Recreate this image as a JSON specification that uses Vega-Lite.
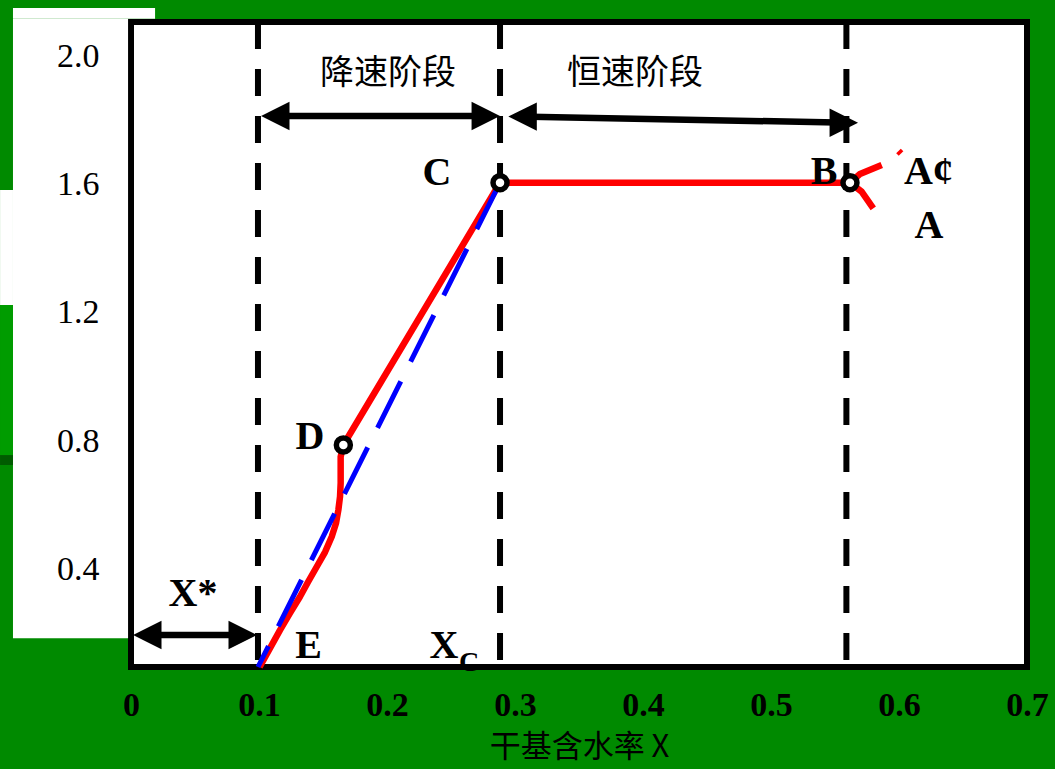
{
  "$schema": "https://vega.github.io/schema/vega-lite/v6.json",
  "width": 896,
  "height": 645,
  "autosize": {"type": "none"},
  "padding": {"left": 131, "top": 22, "right": 28, "bottom": 102},
  "background": "#008a00",
  "config": {"view": {"fill": "white", "stroke": "black", "strokeWidth": 6}},
  "layer": [
    {
      "data": {"values": [
        {"x": -0.0922, "x2": 0.0188, "y": 2.153, "y2": 2.119, "kind": "patch"},
        {"x": -0.0922, "x2": -0.0023, "y": 2.119, "y2": 0.184, "kind": "patch"},
        {"x": -0.1023, "x2": -0.0922, "y": 1.584, "y2": 1.225, "kind": "patch"},
        {"x": -0.1023, "x2": -0.0922, "y": 1.225, "y2": 0.756, "kind": "stripe"},
        {"x": -0.1023, "x2": -0.0922, "y": 0.756, "y2": 0.725, "kind": "band"}
      ]},
      "mark": {"type": "rect", "clip": false, "strokeWidth": 0},
      "encoding": {
        "x": {
          "field": "x", "type": "quantitative",
          "scale": {"domain": [0, 0.7], "nice": false, "zero": false},
          "title": "干基含水率 X",
          "axis": {
            "values": [0, 0.1, 0.2, 0.3, 0.4, 0.5, 0.6, 0.7],
            "format": ".1~f",
            "labelFont": "Liberation Serif", "labelFontWeight": "bold", "labelFontSize": 34,
            "labelColor": "black", "labelPadding": 38, "labelBaseline": "middle",
            "labelFlush": false, "labelOverlap": false,
            "ticks": false, "tickSize": 0, "domain": false, "grid": false,
            "titleFont": "Noto Sans CJK SC", "titleFontSize": 31, "titleFontWeight": "normal",
            "titleColor": "black", "titleBaseline": "middle", "titleY": 80,
            "zindex": 1
          }
        },
        "x2": {"field": "x2"},
        "y": {
          "field": "y", "type": "quantitative",
          "scale": {"domain": [0.094, 2.109], "nice": false, "zero": false},
          "title": null,
          "axis": {
            "values": [0.4, 0.8, 1.2, 1.6, 2.0],
            "format": ".1f",
            "labelFont": "Liberation Serif", "labelFontWeight": "normal", "labelFontSize": 34,
            "labelColor": "black", "labelPadding": 32, "labelAlign": "right", "labelBaseline": "middle",
            "labelFlush": false, "labelOverlap": false,
            "ticks": false, "tickSize": 0, "domain": false, "grid": false,
            "zindex": 1
          }
        },
        "y2": {"field": "y2"},
        "color": {
          "field": "kind", "type": "nominal",
          "scale": {"domain": ["patch", "stripe", "band"], "range": ["#ffffff", "#009c00", "#005c00"]},
          "legend": null
        }
      }
    },
    {
      "data": {"values": [{"x": 0.0992}, {"x": 0.2883}, {"x": 0.5589}]},
      "mark": {"type": "rule", "color": "black", "strokeWidth": 6, "strokeDash": [27, 20]},
      "encoding": {
        "x": {"field": "x", "type": "quantitative"},
        "y": {"datum": 2.109, "type": "quantitative"},
        "y2": {"datum": 0.094}
      }
    },
    {
      "data": {"values": [
        {"seg": "main", "ord": 1, "x": 0.1005, "y": 0.094},
        {"seg": "main", "ord": 2, "x": 0.1164, "y": 0.2094},
        {"seg": "main", "ord": 3, "x": 0.1242, "y": 0.2625},
        {"seg": "main", "ord": 4, "x": 0.1320, "y": 0.3134},
        {"seg": "main", "ord": 5, "x": 0.1383, "y": 0.3594},
        {"seg": "main", "ord": 6, "x": 0.1451, "y": 0.4072},
        {"seg": "main", "ord": 7, "x": 0.1516, "y": 0.4531},
        {"seg": "main", "ord": 8, "x": 0.1568, "y": 0.5009},
        {"seg": "main", "ord": 9, "x": 0.1602, "y": 0.5438},
        {"seg": "main", "ord": 10, "x": 0.1620, "y": 0.5844},
        {"seg": "main", "ord": 11, "x": 0.1633, "y": 0.626},
        {"seg": "main", "ord": 12, "x": 0.1638, "y": 0.6688},
        {"seg": "main", "ord": 13, "x": 0.1638, "y": 0.7509},
        {"seg": "main", "ord": 14, "x": 0.1659, "y": 0.7875},
        {"seg": "main", "ord": 15, "x": 0.2883, "y": 1.607},
        {"seg": "main", "ord": 16, "x": 0.5617, "y": 1.607},
        {"seg": "up", "ord": 1, "x": 0.5617, "y": 1.607},
        {"seg": "up", "ord": 2, "x": 0.5695, "y": 1.634},
        {"seg": "up", "ord": 3, "x": 0.5865, "y": 1.6625},
        {"seg": "down", "ord": 1, "x": 0.5617, "y": 1.607},
        {"seg": "down", "ord": 2, "x": 0.5708, "y": 1.579},
        {"seg": "down", "ord": 3, "x": 0.5799, "y": 1.527},
        {"seg": "dot", "ord": 1, "x": 0.5996, "y": 1.706},
        {"seg": "dot", "ord": 2, "x": 0.6016, "y": 1.698}
      ]},
      "mark": {"type": "line", "color": "#ff0000", "strokeWidth": 6.5, "strokeJoin": "round"},
      "encoding": {
        "x": {"field": "x", "type": "quantitative"},
        "y": {"field": "y", "type": "quantitative"},
        "detail": {"field": "seg", "type": "nominal"},
        "order": {"field": "ord", "type": "quantitative"}
      }
    },
    {
      "data": {"values": [
        {"ord": 1, "x": 0.2883, "y": 1.607},
        {"ord": 2, "x": 0.0992, "y": 0.094}
      ]},
      "mark": {"type": "line", "color": "#0000ff", "strokeWidth": 5, "strokeDash": [52, 22]},
      "encoding": {
        "x": {"field": "x", "type": "quantitative"},
        "y": {"field": "y", "type": "quantitative"},
        "order": {"field": "ord", "type": "quantitative"}
      }
    },
    {
      "data": {"values": [
        {"label": "C", "x": 0.2391, "y": 1.6375},
        {"label": "B", "x": 0.5414, "y": 1.6406},
        {"label": "A¢", "x": 0.623, "y": 1.639},
        {"label": "A", "x": 0.6234, "y": 1.4703},
        {"label": "D", "x": 0.1398, "y": 0.8135},
        {"label": "E", "x": 0.1387, "y": 0.1594},
        {"label": "X", "x": 0.2445, "y": 0.1594},
        {"label": "X*", "x": 0.0484, "y": 0.3219}
      ]},
      "mark": {"type": "text", "font": "Liberation Serif", "fontWeight": "bold", "fontSize": 40, "color": "black", "align": "center", "baseline": "middle", "clip": false},
      "encoding": {
        "x": {"field": "x", "type": "quantitative"},
        "y": {"field": "y", "type": "quantitative"},
        "text": {"field": "label"}
      }
    },
    {
      "data": {"values": [{"label": "C", "x": 0.2641, "y": 0.108}]},
      "mark": {"type": "text", "font": "Liberation Serif", "fontWeight": "bold", "fontSize": 28, "color": "black", "align": "center", "baseline": "middle", "clip": false},
      "encoding": {
        "x": {"field": "x", "type": "quantitative"},
        "y": {"field": "y", "type": "quantitative"},
        "text": {"field": "label"}
      }
    },
    {
      "data": {"values": [
        {"label": "降速阶段", "x": 0.2008, "y": 1.945},
        {"label": "恒速阶段", "x": 0.3938, "y": 1.945}
      ]},
      "mark": {"type": "text", "font": "Noto Sans CJK SC", "fontWeight": "normal", "fontSize": 34, "color": "black", "align": "center", "baseline": "middle"},
      "encoding": {
        "x": {"field": "x", "type": "quantitative"},
        "y": {"field": "y", "type": "quantitative"},
        "text": {"field": "label"}
      }
    },
    {
      "data": {"values": [
        {"x": 0.1086, "x2": 0.2813, "y": 1.8156, "y2": 1.8156},
        {"x": 0.3018, "x2": 0.561, "y": 1.8134, "y2": 1.7944},
        {"x": 0.0086, "x2": 0.0914, "y": 0.194, "y2": 0.194}
      ]},
      "mark": {"type": "rule", "color": "black", "strokeWidth": 6.5},
      "encoding": {
        "x": {"field": "x", "type": "quantitative"},
        "x2": {"field": "x2"},
        "y": {"field": "y", "type": "quantitative"},
        "y2": {"field": "y2"}
      }
    },
    {
      "data": {"values": [
        {"x": 0.1016, "y": 1.8156, "dir": "left"},
        {"x": 0.2883, "y": 1.8156, "dir": "right"},
        {"x": 0.2948, "y": 1.8134, "dir": "left"},
        {"x": 0.568, "y": 1.794, "dir": "right"},
        {"x": 0.0016, "y": 0.194, "dir": "left"},
        {"x": 0.0984, "y": 0.194, "dir": "right"}
      ]},
      "mark": {"type": "point", "filled": true, "size": 810, "opacity": 1, "color": "black", "strokeWidth": 0},
      "encoding": {
        "x": {"field": "x", "type": "quantitative"},
        "y": {"field": "y", "type": "quantitative"},
        "shape": {
          "field": "dir", "type": "nominal",
          "scale": {"domain": ["left", "right"], "range": ["M0,0L2,-1L2,1Z", "M0,0L-2,-1L-2,1Z"]},
          "legend": null
        }
      }
    },
    {
      "data": {"values": [
        {"name": "C", "x": 0.2883, "y": 1.607},
        {"name": "B", "x": 0.5617, "y": 1.607},
        {"name": "D", "x": 0.1659, "y": 0.7875}
      ]},
      "mark": {"type": "point", "shape": "circle", "size": 196, "filled": true, "fill": "white", "stroke": "black", "strokeWidth": 5.5, "opacity": 1},
      "encoding": {
        "x": {"field": "x", "type": "quantitative"},
        "y": {"field": "y", "type": "quantitative"}
      }
    }
  ]
}
